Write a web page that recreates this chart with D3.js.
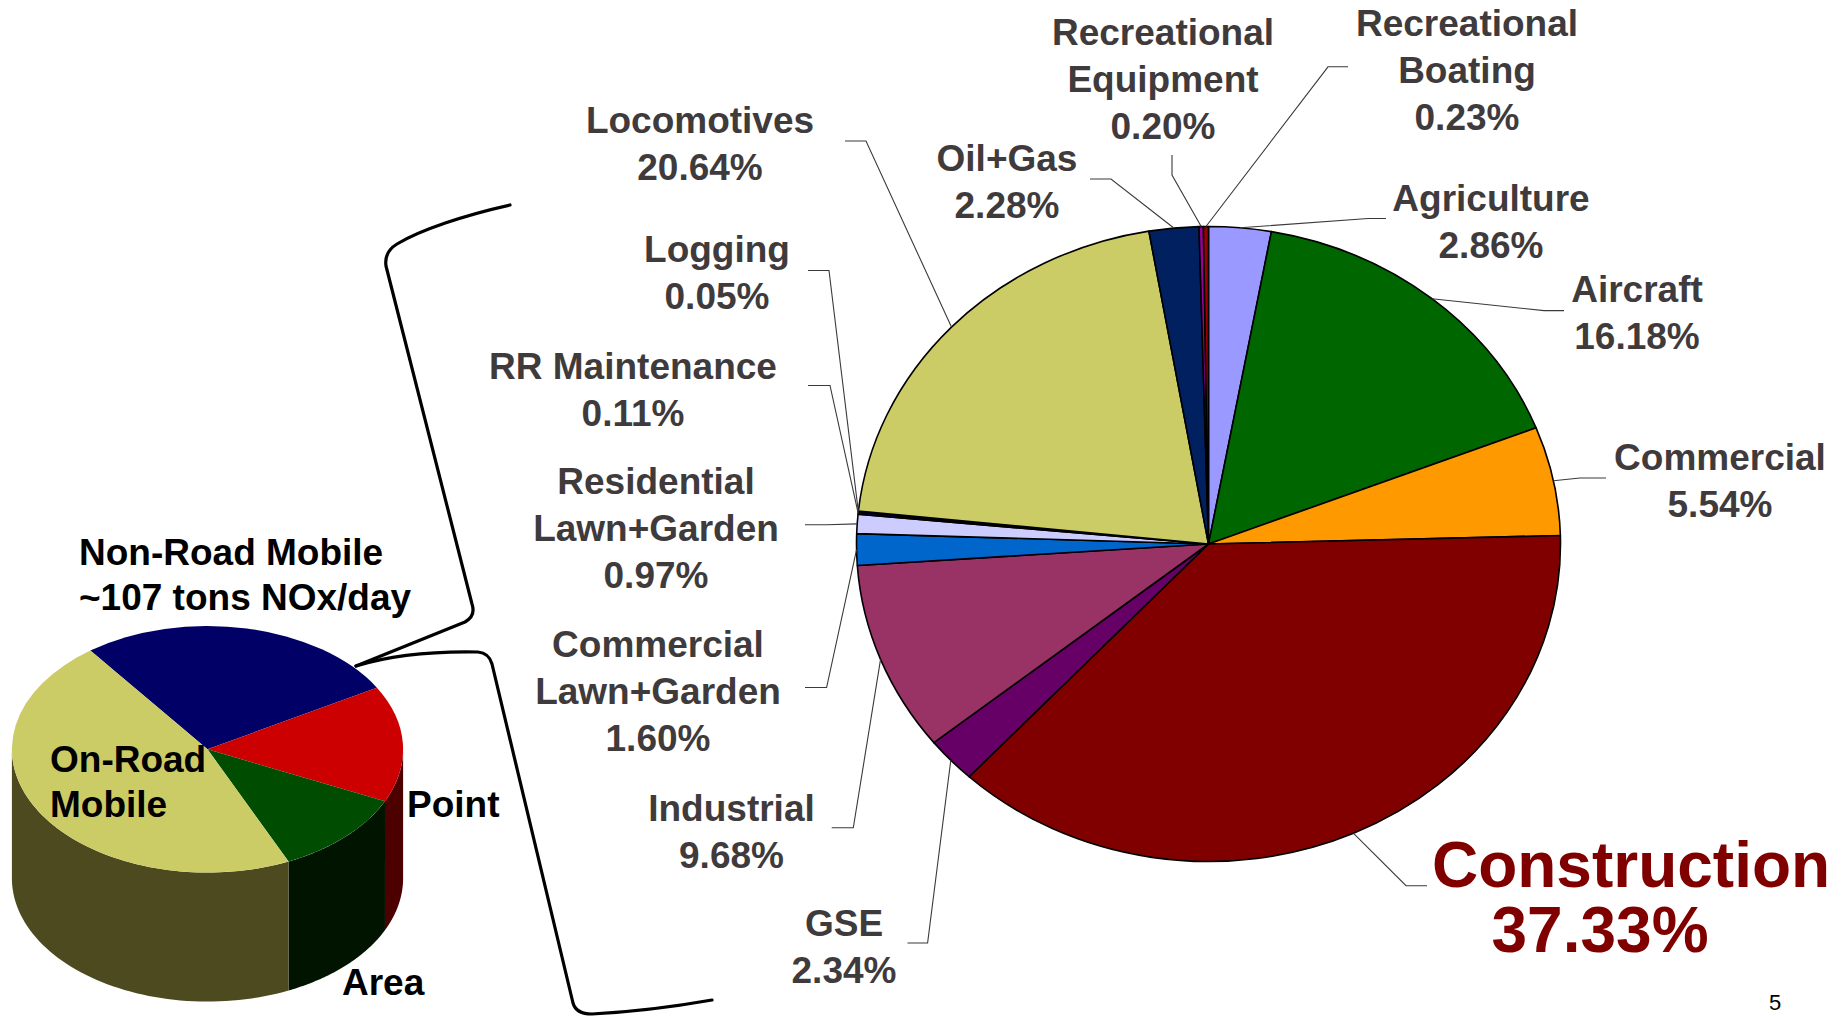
<!DOCTYPE html>
<html>
<head>
<meta charset="utf-8">
<script src="https://cdn.jsdelivr.net/npm/d3@7"></script>
<style>
  html, body { margin: 0; padding: 0; background: #fff; }
  svg { display: block; font-family: "Liberation Sans", Arial, sans-serif; font-weight: bold; }
</style>
</head>
<body>
<div id="chart"></div>
<script>
// ---- data ----
// small 3D pie: total NOx by sector (share %)
const sectors = ["Non-Road Mobile", "Point", "Area", "On-Road Mobile"];
const sectorShares = [26.9, 15.25, 11.3, 46.6];

// big pie: non-road mobile breakdown (clockwise from 12 o'clock)
const categories = [
  "Agriculture", "Aircraft", "Commercial", "Construction", "GSE", "Industrial",
  "Commercial Lawn+Garden", "Residential Lawn+Garden", "RR Maintenance", "Logging",
  "Locomotives", "Oil+Gas", "Recreational Equipment", "Recreational Boating",
];
const shares = [2.86, 16.18, 5.54, 37.33, 2.34, 9.68, 1.60, 0.97, 0.11, 0.05, 20.64, 2.28, 0.20, 0.23];
// category names as broken on the slide
const labelLines = [
  ["Agriculture"], ["Aircraft"], ["Commercial"], ["Construction"], ["GSE"], ["Industrial"],
  ["Commercial", "Lawn+Garden"], ["Residential", "Lawn+Garden"], ["RR Maintenance"], ["Logging"],
  ["Locomotives"], ["Oil+Gas"], ["Recreational", "Equipment"], ["Recreational", "Boating"],
];

// ---- styles ----
const sliceColors = [
  "#9999ff", "#006600", "#ff9900", "#800000", "#660066", "#993366",
  "#0066cc", "#ccccff", "#000099", "#000066", "#cccc66", "#002060", "#990099", "#990000",
];
const sectorColors = ["#000066", "#cc0000", "#004c00", "#cccc66"];
const sectorSideColors = ["#00001f", "#4c0000", "#001400", "#4c4a1e"];

const textGray = "#3f3b3d";
const lineH = 47;

// label placement: x (centre), first baseline, leader points toward the slice
const labelLayout = [
  { x: 1491, y: 211, leader: [[1386, 218.5], [1368, 218.5]] },
  { x: 1637, y: 302, leader: [[1564, 310.6], [1544, 310.6]] },
  { x: 1720, y: 470, leader: [[1606, 478], [1580, 478]] },
  { x: 1631, y: 887, size: 64, color: "#800000", xs: [1631, 1600], dy: 64.5, leader: [[1427, 885.7], [1406, 885.7]] },
  { x: 844, y: 936, leader: [[907.5, 943], [927.6, 943]] },
  { x: 731.5, y: 821, leader: [[831.7, 827.8], [853.3, 827.8]] },
  { x: 658, y: 657, leader: [[805, 687.5], [826.6, 687.5]] },
  { x: 656, y: 494, leader: [[805, 524.8], [826.6, 524.8]] },
  { x: 633, y: 379, leader: [[808, 385.5], [830, 385.5]] },
  { x: 717, y: 262, leader: [[808, 270.5], [829, 270.5]] },
  { x: 700, y: 133, leader: [[845, 141], [866, 141]] },
  { x: 1007, y: 171, leader: [[1090, 179], [1111, 179]] },
  { x: 1163, y: 45, leader: [[1172, 155], [1172, 175]] },
  { x: 1467, y: 36, leader: [[1348, 66.8], [1328, 66.8]] },
];

const W = 1848, H = 1016;
const pie = { x: 1208.5, y: 544, rx: 352, ry: 317.5 };
const pie3d = { x: 207.5, y: 749.3, rx: 195.6, ry: 123.3, depth: 129, start: -36.8 * Math.PI / 180 };

const svg = d3.select("#chart").append("svg")
  .attr("width", W)
  .attr("height", H)
  .attr("viewBox", `0 0 ${W} ${H}`);

// ---- small 3D pie ----
const arcs3d = d3.pie().sort(null)
  .startAngle(pie3d.start)
  .endAngle(pie3d.start + 2 * Math.PI)(sectorShares);

const ept = (a, dy = 0) => [pie3d.x + pie3d.rx * Math.sin(a), pie3d.y + dy - pie3d.ry * Math.cos(a)];

const sideG = svg.append("g");
arcs3d.forEach((d, i) => {
  const lo = Math.max(d.startAngle, Math.PI / 2);
  const hi = Math.min(d.endAngle, 1.5 * Math.PI);
  if (hi <= lo) return;
  const n = 60;
  const pts = [];
  for (let k = 0; k <= n; k++) pts.push(ept(lo + (hi - lo) * k / n));
  for (let k = n; k >= 0; k--) pts.push(ept(lo + (hi - lo) * k / n, pie3d.depth));
  sideG.append("path")
    .attr("d", d3.line()(pts) + "Z")
    .attr("fill", sectorSideColors[i]);
});

svg.append("g")
  .attr("transform", `translate(${pie3d.x},${pie3d.y}) scale(${pie3d.rx / pie3d.ry},1)`)
  .selectAll("path")
  .data(arcs3d)
  .join("path")
  .attr("d", d3.arc().innerRadius(0).outerRadius(pie3d.ry))
  .attr("fill", (d, i) => sectorColors[i]);

const blackText = [
  { t: "Non-Road Mobile", x: 79, y: 565 },
  { t: "~107 tons NOx/day", x: 79, y: 610 },
  { t: "On-Road", x: 50, y: 772 },
  { t: "Mobile", x: 50, y: 817 },
  { t: "Point", x: 407, y: 817 },
  { t: "Area", x: 342, y: 995 },
];
svg.append("g").selectAll("text")
  .data(blackText)
  .join("text")
  .attr("x", (d) => d.x)
  .attr("y", (d) => d.y)
  .attr("font-size", 37)
  .attr("fill", "#000")
  .text((d) => d.t);

// bracket linking the non-road slice to the breakdown
const bracket = svg.append("g")
  .attr("fill", "none")
  .attr("stroke", "#000")
  .attr("stroke-width", 3.2)
  .attr("stroke-linecap", "round")
  .attr("stroke-linejoin", "round");
bracket.append("path")
  .attr("d", "M510,205 C465,215 420,230 397,244 Q384,252 386,266 L472,604 Q476,616 465,622 L356,666");
bracket.append("path")
  .attr("d", "M356,666 C385,657 425,651 478,652 Q489,653 492,664 L573,1003 Q576,1014 592,1014 Q650,1011 712,1000");

// ---- big pie (elliptical) ----
const arcs = d3.pie().sort(null).value((d) => d)(shares);

svg.append("g")
  .attr("transform", `translate(${pie.x},${pie.y}) scale(${pie.rx / pie.ry},1)`)
  .selectAll("path")
  .data(arcs)
  .join("path")
  .attr("d", d3.arc().innerRadius(0).outerRadius(pie.ry))
  .attr("fill", (d, i) => sliceColors[i])
  .attr("stroke", "#000")
  .attr("stroke-width", 1.6)
  .attr("stroke-linejoin", "round")
  .attr("vector-effect", "non-scaling-stroke");

const edgePoint = (d) => {
  const m = (d.startAngle + d.endAngle) / 2;
  return [pie.x + pie.rx * Math.sin(m), pie.y - pie.ry * Math.cos(m)];
};

// leaders
svg.append("g")
  .attr("fill", "none")
  .attr("stroke", "#3a3a3a")
  .attr("stroke-width", 1.1)
  .selectAll("path")
  .data(arcs)
  .join("path")
  .attr("d", (d, i) => d3.line()([...labelLayout[i].leader, edgePoint(d)]));

// labels
const fmt = (v) => v.toFixed(2) + "%";
const labels = svg.append("g").attr("text-anchor", "middle");
arcs.forEach((d, i) => {
  const L = labelLayout[i];
  const lines = [...labelLines[i], fmt(shares[i])];
  const t = labels.append("text")
    .attr("font-size", L.size || 37)
    .attr("fill", L.color || textGray);
  lines.forEach((s, k) => {
    t.append("tspan")
      .attr("x", L.xs ? L.xs[k] : L.x)
      .attr("y", L.y + k * (L.dy || lineH))
      .text(s);
  });
});

// slide number
svg.append("text")
  .attr("x", 1775)
  .attr("y", 1010)
  .attr("text-anchor", "middle")
  .attr("font-size", 22)
  .attr("font-weight", "normal")
  .attr("fill", "#000")
  .text("5");
</script>
</body>
</html>
